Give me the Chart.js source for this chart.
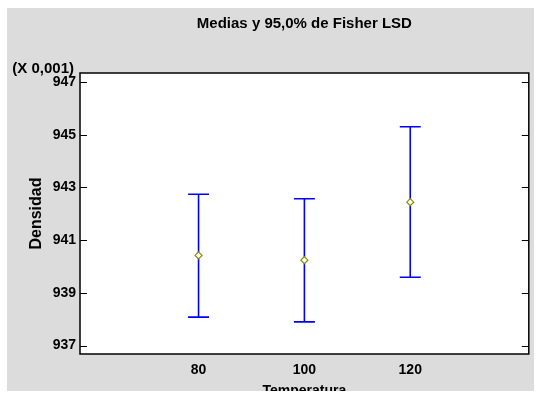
<!DOCTYPE html>
<html>
<head>
<meta charset="utf-8">
<script src="https://cdn.jsdelivr.net/npm/chart.js@4.4.1/dist/chart.umd.min.js"></script>
<style>
  html, body { margin: 0; padding: 0; background: #fff; }
  #panel { position: absolute; left: 7px; top: 8px; width: 527px; height: 383px; overflow: hidden; background: #dcdcdc; }
  #chart { display: block; }
</style>
</head>
<body>
<div id="panel"><canvas id="chart" width="527" height="400"></canvas></div>
<script>
// Temperatura vs densidad (x 0,001): medias e intervalos LSD de Fisher al 95%
const temperaturas = [80, 100, 120];
const medias = [940.42, 940.24, 942.44];
const limInf = [938.08, 937.90, 939.59];
const limSup = [942.74, 942.57, 945.30];
const yTicks = [937, 939, 941, 943, 945, 947];
const xLimites = [57.6, 142.4];
const yLimites = [936.68, 947.34];

const FUENTE = "'Liberation Sans', Arial, sans-serif";

// fondo blanco del area, barras de error, marco y marcas hacia dentro
const marco = {
  id: 'marco',
  beforeDraw(chart) {
    const { ctx, chartArea: a } = chart;
    ctx.save();
    ctx.fillStyle = '#fff';
    ctx.fillRect(a.left, a.top, a.right - a.left, a.bottom - a.top);
    ctx.restore();
  },
  beforeDatasetsDraw(chart) {
    const { ctx, scales: { x, y } } = chart;
    ctx.save();
    ctx.strokeStyle = '#0000ff';
    ctx.lineWidth = 1.6;
    temperaturas.forEach((t, i) => {
      const px = x.getPixelForValue(t), y0 = y.getPixelForValue(limInf[i]), y1 = y.getPixelForValue(limSup[i]);
      ctx.beginPath();
      ctx.moveTo(px, y0); ctx.lineTo(px, y1);
      ctx.moveTo(px - 10.5, y0); ctx.lineTo(px + 10.5, y0);
      ctx.moveTo(px - 10.5, y1); ctx.lineTo(px + 10.5, y1);
      ctx.stroke();
    });
    ctx.restore();
  },
  afterDraw(chart) {
    const { ctx, chartArea: a, scales: { y } } = chart;
    ctx.save();
    ctx.strokeStyle = '#000';
    ctx.lineWidth = 1.5;
    ctx.strokeRect(a.left, a.top, a.right - a.left, a.bottom - a.top);
    ctx.lineWidth = 1;
    ctx.beginPath();
    yTicks.forEach(v => {
      const py = Math.round(y.getPixelForValue(v)) + 0.5;
      ctx.moveTo(a.left, py); ctx.lineTo(a.left + 7, py);
      ctx.moveTo(a.right, py); ctx.lineTo(a.right - 7, py);
    });
    ctx.stroke();
    ctx.fillStyle = '#000';
    ctx.font = 'bold 15px ' + FUENTE;
    ctx.textAlign = 'right';
    ctx.textBaseline = 'middle';
    ctx.fillText('(X 0,001)', a.left - 6, a.top - 4);
    ctx.restore();
  }
};

new Chart(document.getElementById('chart'), {
  type: 'scatter',
  data: {
    datasets: [{
      data: temperaturas.map((t, i) => ({ x: t, y: medias[i] })),
      pointStyle: 'rectRot',
      pointRadius: 3.5,
      pointBorderWidth: 1.2,
      pointBorderColor: '#8c8c00',
      pointBackgroundColor: '#fff',
      showLine: false
    }]
  },
  options: {
    responsive: false,
    animation: false,
    events: [],
    layout: { padding: { left: 0, right: 5, top: 0, bottom: 0 } },
    plugins: {
      legend: { display: false },
      tooltip: { enabled: false },
      title: {
        display: true,
        fullSize: false,
        text: 'Medias y 95,0% de Fisher LSD',
        color: '#000',
        font: { family: FUENTE, size: 15, weight: 'bold' },
        padding: { top: 7, bottom: 40 }
      }
    },
    scales: {
      x: {
        type: 'linear',
        min: xLimites[0], max: xLimites[1],
        afterBuildTicks: s => { s.ticks = temperaturas.map(v => ({ value: v })); },
        afterFit: s => { s.height = 54; },
        grid: { display: false, drawTicks: false },
        border: { display: false },
        ticks: { color: '#000', padding: 8, font: { family: FUENTE, size: 14, weight: 'bold' } },
        title: { display: true, text: 'Temperatura', color: '#000', font: { family: FUENTE, size: 14, weight: 'bold' }, padding: { top: 8, bottom: 8 } }
      },
      y: {
        type: 'linear',
        min: yLimites[0], max: yLimites[1],
        afterBuildTicks: s => { s.ticks = yTicks.map(v => ({ value: v })); },
        afterFit: s => { s.width = 73; },
        grid: { display: false, drawTicks: false },
        border: { display: false },
        ticks: { color: '#000', padding: 4, font: { family: FUENTE, size: 14, weight: 'bold' } },
        title: { display: true, text: 'Densidad', color: '#000', font: { family: FUENTE, size: 16, weight: 'bold' }, padding: { top: 20, bottom: 20 } }
      }
    }
  },
  plugins: [marco]
});
</script>
</body>
</html>
